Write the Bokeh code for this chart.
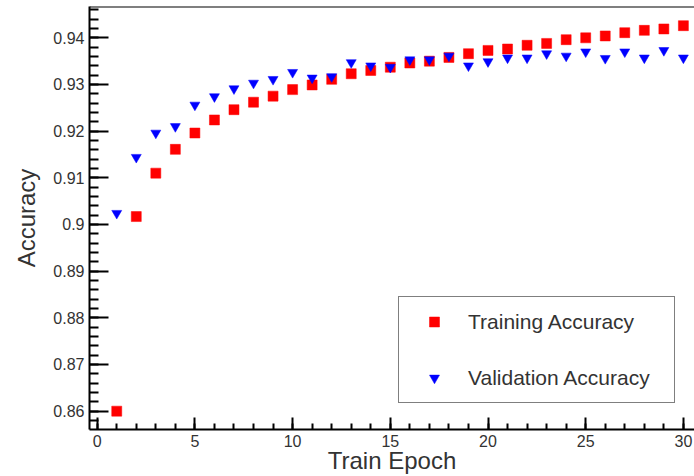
from bokeh.plotting import figure
from bokeh.models import (Range1d, SingleIntervalTicker, CustomJSTickFormatter, Span,
                          Legend, LegendItem, ColumnDataSource)
from bokeh.embed import file_html
from bokeh.resources import INLINE

epochs = list(range(1, 31))
train_acc = [0.8600, 0.9017, 0.9110, 0.9161, 0.9196, 0.9224, 0.9246, 0.9262, 0.9275, 0.9289,
             0.9299, 0.9311, 0.9323, 0.9330, 0.9337, 0.9346, 0.9350, 0.9358, 0.9366, 0.9373,
             0.9376, 0.9384, 0.9388, 0.9396, 0.9400, 0.9404, 0.9411, 0.9416, 0.9419, 0.9426]
val_acc = [0.9024, 0.9144, 0.9196, 0.9210, 0.9256, 0.9274, 0.9291, 0.9303, 0.9311, 0.9326,
           0.9314, 0.9317, 0.9347, 0.9340, 0.9337, 0.9353, 0.9353, 0.9361, 0.9340, 0.9349,
           0.9357, 0.9357, 0.9366, 0.9361, 0.9370, 0.9356, 0.9370, 0.9357, 0.9373, 0.9357]
series_names = ["Training Accuracy", "Validation Accuracy"]
x_title = "Train Epoch"
y_title = "Accuracy"

FONT = "Liberation Sans"
TXT = "#333333"

y_lo, y_hi = 0.85607, 0.94671
p = figure(width=694, height=476, output_backend="svg", toolbar_location=None,
           x_range=Range1d(-0.394, 30.568), y_range=Range1d(y_lo, y_hi),
           min_border_left=89, min_border_right=0, min_border_top=6, min_border_bottom=47,
           background_fill_color="white", border_fill_color="white")
p.outline_line_color = None
p.xgrid.visible = False
p.ygrid.visible = False

src = ColumnDataSource(dict(epoch=epochs, train=train_acc, val=val_acc))
r_train = p.scatter("epoch", "train", source=src, marker="square", size=10,
                    fill_color="#ff0000", line_color="#ff0000", line_width=0.5)
r_val = p.scatter("epoch", "val", source=src, marker="inverted_triangle", size=10,
                  fill_color="#0000ff", line_color="#0000ff", line_width=0.5)

fmt = CustomJSTickFormatter(code="return String(Number(tick.toFixed(3)));")

xa = p.xaxis[0]
xa.ticker = SingleIntervalTicker(interval=5, num_minor_ticks=5)
xa.formatter = fmt
xa.axis_line_width = 2
xa.major_tick_in = 12
xa.major_tick_out = 0
xa.minor_tick_in = 6
xa.minor_tick_out = 0
xa.major_tick_line_width = 2
xa.minor_tick_line_width = 2
xa.major_label_standoff = 5
xa.major_label_text_font = FONT
xa.major_label_text_font_size = "16px"
xa.major_label_text_color = TXT
xa.axis_label = x_title
xa.axis_label_text_font = FONT
xa.axis_label_text_font_size = "24px"
xa.axis_label_text_font_style = "normal"
xa.axis_label_text_color = TXT
xa.axis_label_standoff = -3

ya = p.yaxis[0]
ya.ticker = SingleIntervalTicker(interval=0.01, num_minor_ticks=5)
ya.formatter = fmt
ya.axis_line_width = 2
ya.major_tick_in = 19
ya.major_tick_out = 0
ya.minor_tick_in = 9
ya.minor_tick_out = 0
ya.major_tick_line_width = 2
ya.minor_tick_line_width = 2
ya.major_label_standoff = 5
ya.major_label_text_font = FONT
ya.major_label_text_font_size = "16px"
ya.major_label_text_color = TXT
ya.axis_label = y_title
ya.axis_label_text_font = FONT
ya.axis_label_text_font_size = "24px"
ya.axis_label_text_font_style = "normal"
ya.axis_label_text_color = TXT
ya.axis_label_standoff = 10

top = Span(location=y_hi, dimension="width", line_color="black", line_width=2)
p.add_layout(top)

legend = Legend(items=[LegendItem(label=series_names[0], renderers=[r_train]),
                       LegendItem(label=series_names[1], renderers=[r_val])],
                location=(309, 26), orientation="vertical",
                padding=12, spacing=31, margin=0,
                glyph_width=46, glyph_height=25, label_height=25, label_width=194,
                label_standoff=11,
                label_text_font=FONT, label_text_font_size="21px", label_text_color=TXT,
                border_line_color="black", border_line_width=1.5,
                background_fill_color="white", background_fill_alpha=1.0)
p.add_layout(legend, "center")

open("out.html", "w").write(file_html(p, INLINE))
